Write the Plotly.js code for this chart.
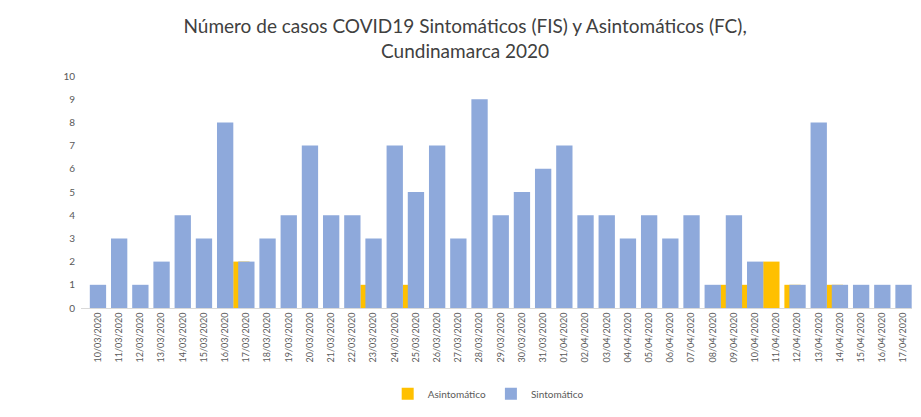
<!DOCTYPE html>
<html>
<head>
<meta charset="utf-8">
<script src="https://cdn.plot.ly/plotly-3.0.1.min.js"></script>
<style>html,body{margin:0;padding:0;background:#fff;} #chart{width:921px;height:417px;}</style>
</head>
<body>
<div id="chart"></div>
<script>
const fechas = ['10/03/2020','11/03/2020','12/03/2020','13/03/2020','14/03/2020','15/03/2020','16/03/2020','17/03/2020','18/03/2020','19/03/2020','20/03/2020','21/03/2020','22/03/2020','23/03/2020','24/03/2020','25/03/2020','26/03/2020','27/03/2020','28/03/2020','29/03/2020','30/03/2020','31/03/2020','01/04/2020','02/04/2020','03/04/2020','04/04/2020','05/04/2020','06/04/2020','07/04/2020','08/04/2020','09/04/2020','10/04/2020','11/04/2020','12/04/2020','13/04/2020','14/04/2020','15/04/2020','16/04/2020','17/04/2020'];
const asintomatico = [0,0,0,0,0,0,0,2,0,0,0,0,0,1,0,1,0,0,0,0,0,0,0,0,0,0,0,0,0,0,1,1,2,1,0,1,0,0,0];
const sintomatico = [1,3,1,2,4,3,8,2,3,4,7,4,4,3,7,5,7,3,9,4,5,6,7,4,4,3,4,3,4,1,4,2,0,1,8,1,1,1,1];
const yTicks = [0,1,2,3,4,5,6,7,8,9,10];

const traces = [
  {type:'bar', name:'Asintomático', x:fechas, y:asintomatico, marker:{color:'#FFC000'}, width:0.77, offset:-0.62, hoverinfo:'x+y+name'},
  {type:'bar', name:'Sintomático', x:fechas, y:sintomatico, marker:{color:'#8EA9DB'}, width:0.77, offset:-0.385, hoverinfo:'x+y+name'}
];

const layout = {
  width:921, height:417,
  margin:{l:81, r:9, t:76, b:105},
  paper_bgcolor:'#ffffff', plot_bgcolor:'#ffffff',
  barmode:'overlay',
  showlegend:true,
  font:{family:'Lato, "Open Sans", sans-serif', color:'#595959'},
  title:{text:'Número de casos COVID19 Sintomáticos (FIS) y Asintomáticos (FC),<br>Cundinamarca 2020',
         font:{family:'Lato, "Open Sans", sans-serif', size:19, color:'#404040'},
         x:0.505, xanchor:'center', yref:'container', y:0.92, yanchor:'top'},
  xaxis:{type:'category', range:[-0.8,38.4], tickangle:-90, tickfont:{size:9, color:'#595959'},
         showline:true, linecolor:'#d9d9d9', linewidth:1, ticks:'', showgrid:false, zeroline:false, fixedrange:true},
  yaxis:{range:[0,10], tickvals:yTicks, ticktext:yTicks.map(String), tickfont:{size:10, color:'#595959'},
         showgrid:false, zeroline:false, showline:false, ticks:'', ticklabelstandoff:5, fixedrange:true},
  legend:{orientation:'h', x:0.49, xanchor:'center', y:-0.37, yanchor:'middle', font:{size:10, color:'#595959'}, traceorder:'normal', itemwidth:30}
};

Plotly.newPlot('chart', traces, layout, {displayModeBar:false, staticPlot:true});
</script>
</body>
</html>
